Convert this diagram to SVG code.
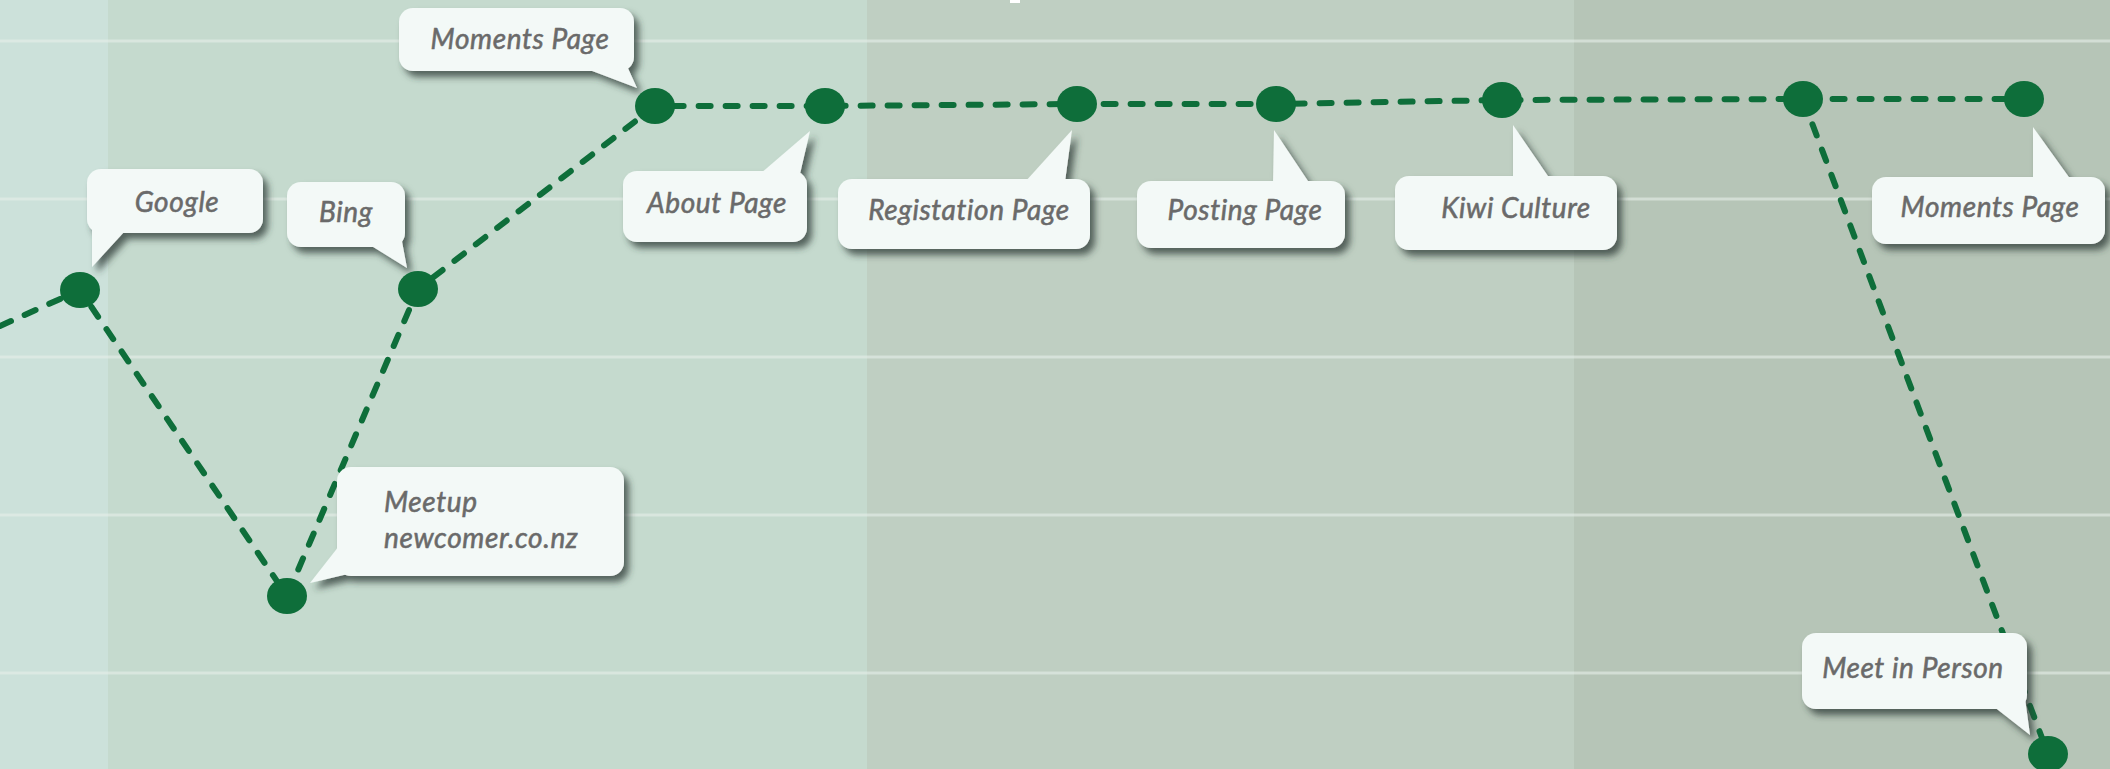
<svg xmlns="http://www.w3.org/2000/svg" width="2110" height="769" viewBox="0 0 2110 769">
  <defs>
    <filter id="shadow" x="-20%" y="-20%" width="150%" height="160%">
      <feDropShadow dx="5" dy="6" stdDeviation="3.5" flood-color="#2f3a34" flood-opacity="0.75"/>
    </filter>
  </defs>
  <style>
    .bubble { fill: #f3f9f7; }
    .lbl { font-family: Lato, "Open Sans", "Liberation Sans", sans-serif; font-style: italic; font-size: 28px; letter-spacing: 0.6px; fill: #6a6a6a; stroke: #6a6a6a; stroke-width: 0.55; }
    .node { fill: #0e6e3a; }
    .conn { fill: none; stroke: #0e6e3a; stroke-width: 6; stroke-dasharray: 12 15; stroke-linecap: round; stroke-linejoin: round; }
    .grid { stroke: #e6efea; stroke-opacity: 0.6; stroke-width: 3; }
  </style>

  <!-- background bands -->
  <rect x="0" y="0" width="108" height="769" fill="#cce1da"/>
  <rect x="108" y="0" width="759" height="769" fill="#c5dace"/>
  <rect x="867" y="0" width="707" height="769" fill="#bfcfc2"/>
  <rect x="1574" y="0" width="536" height="769" fill="#b6c5b7"/>
  <g id="grid">
    <line class="grid" x1="0" y1="41" x2="2110" y2="41"/>
    <line class="grid" x1="0" y1="199" x2="2110" y2="199"/>
    <line class="grid" x1="0" y1="357" x2="2110" y2="357"/>
    <line class="grid" x1="0" y1="515" x2="2110" y2="515"/>
    <line class="grid" x1="0" y1="673" x2="2110" y2="673"/>
  </g>
  <rect x="1010" y="0" width="10" height="3" fill="#ffffff"/>

  <g id="connectors">
    <path class="conn" d="M0,326 L80,290 L287,596 L418,289 L655,106 L825,106 L1077,104 L1276,104 L1502,100 L1803,99 L2024,99"/>
    <path class="conn" d="M1803,99 L2048,754"/>
  </g>

  <g id="node-google">
    <g filter="url(#shadow)">
      <rect class="bubble" x="87" y="169" width="176" height="64" rx="14"/>
      <polygon class="bubble" points="92,228 92,267 125,231"/>
    </g>
    <text class="lbl" x="177" y="212" text-anchor="middle">Google</text>
    <ellipse class="node" cx="80" cy="290" rx="20" ry="18"/>
  </g>

  <g id="node-meetup">
    <g filter="url(#shadow)">
      <rect class="bubble" x="337" y="467" width="287" height="109" rx="14"/>
      <polygon class="bubble" points="339,546 310,583 348,574"/>
    </g>
    <text class="lbl" x="384" y="512">Meetup</text>
    <text class="lbl" x="384" y="548">newcomer.co.nz</text>
    <ellipse class="node" cx="287" cy="596" rx="20" ry="18"/>
  </g>

  <g id="node-bing">
    <g filter="url(#shadow)">
      <rect class="bubble" x="287" y="182" width="118" height="65" rx="14"/>
      <polygon class="bubble" points="370,245 407,268 401,236"/>
    </g>
    <text class="lbl" x="346" y="222" text-anchor="middle">Bing</text>
    <ellipse class="node" cx="418" cy="289" rx="20" ry="18"/>
  </g>

  <g id="node-moments-1">
    <g filter="url(#shadow)">
      <rect class="bubble" x="399" y="8" width="235" height="63" rx="14"/>
      <polygon class="bubble" points="587,69 637,88 627,66"/>
    </g>
    <text class="lbl" x="520" y="49" text-anchor="middle">Moments Page</text>
    <ellipse class="node" cx="655" cy="106" rx="20" ry="18"/>
  </g>

  <g id="node-about">
    <g filter="url(#shadow)">
      <rect class="bubble" x="623" y="171" width="184" height="71" rx="14"/>
      <polygon class="bubble" points="760,174 810,131 800,174"/>
    </g>
    <text class="lbl" x="717" y="213" text-anchor="middle">About Page</text>
    <ellipse class="node" cx="825" cy="106" rx="20" ry="18"/>
  </g>

  <g id="node-registration">
    <g filter="url(#shadow)">
      <rect class="bubble" x="838" y="179" width="252" height="70" rx="14"/>
      <polygon class="bubble" points="1025,182 1072,130 1065,182"/>
    </g>
    <text class="lbl" x="969" y="220" text-anchor="middle">Registation Page</text>
    <ellipse class="node" cx="1077" cy="104" rx="20" ry="18"/>
  </g>

  <g id="node-posting">
    <g filter="url(#shadow)">
      <rect class="bubble" x="1137" y="181" width="208" height="67" rx="14"/>
      <polygon class="bubble" points="1273,184 1274,130 1310,184"/>
    </g>
    <text class="lbl" x="1245" y="220" text-anchor="middle">Posting Page</text>
    <ellipse class="node" cx="1276" cy="104" rx="20" ry="18"/>
  </g>

  <g id="node-kiwi">
    <g filter="url(#shadow)">
      <rect class="bubble" x="1395" y="176" width="222" height="74" rx="14"/>
      <polygon class="bubble" points="1513,179 1513,125 1550,179"/>
    </g>
    <text class="lbl" x="1516" y="218" text-anchor="middle">Kiwi Culture</text>
    <ellipse class="node" cx="1502" cy="100" rx="20" ry="18"/>
  </g>

  <g id="node-branch">
    <ellipse class="node" cx="1803" cy="99" rx="20" ry="18"/>
  </g>

  <g id="node-moments-2">
    <g filter="url(#shadow)">
      <rect class="bubble" x="1872" y="177" width="233" height="67" rx="14"/>
      <polygon class="bubble" points="2033,180 2033,127 2071,180"/>
    </g>
    <text class="lbl" x="1990" y="217" text-anchor="middle">Moments Page</text>
    <ellipse class="node" cx="2024" cy="99" rx="20" ry="18"/>
  </g>

  <g id="node-meet">
    <g filter="url(#shadow)">
      <rect class="bubble" x="1802" y="633" width="225" height="76" rx="14"/>
      <polygon class="bubble" points="1993,706 2030,735 2025,698"/>
    </g>
    <text class="lbl" x="1913" y="678" text-anchor="middle">Meet in Person</text>
    <ellipse class="node" cx="2048" cy="754" rx="20" ry="18"/>
  </g>
</svg>
